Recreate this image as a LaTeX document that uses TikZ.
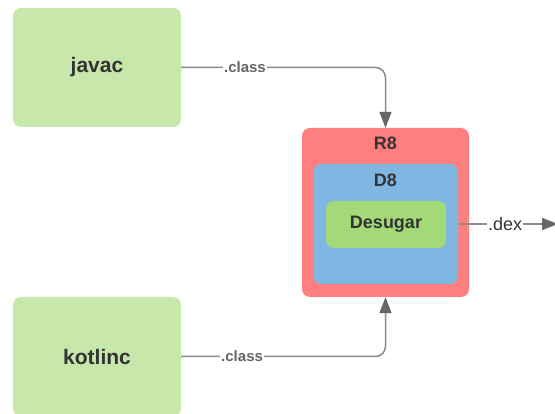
\documentclass[tikz,border=0pt]{standalone}
\usepackage{fontspec}
\setmainfont{Liberation Sans}
\usetikzlibrary{arrows.meta}
\definecolor{srcgreen}{HTML}{C7E7AB}
\definecolor{rred}{HTML}{FF7F7F}
\definecolor{dblue}{HTML}{80B7E2}
\definecolor{dgreen}{HTML}{A3D977}
\definecolor{txt}{HTML}{333333}
\definecolor{linegray}{HTML}{8C8C8C}
\definecolor{tipgray}{HTML}{666666}
\definecolor{lblgray}{HTML}{666666}
\tikzset{
  box/.style={rounded corners=8pt, draw=none, inner sep=0pt},
  srcbox/.style={box, fill=srcgreen, minimum width=168pt, minimum height=119pt,
     font=\fontsize{21}{24}\selectfont\bfseries, text=txt},
  conn/.style={draw=linegray, line width=1.5pt, rounded corners=10pt,
     -{Triangle[length=16pt,width=12pt,color=tipgray]}},
  clslabel/.style={fill=white, inner sep=1pt, font=\fontsize{15}{17}\selectfont\bfseries, text=lblgray},
  dexlabel/.style={fill=white, inner sep=1pt, font=\fontsize{18}{20}\selectfont, text=txt},
  inlabel/.style={font=\fontsize{18}{20}\selectfont\bfseries, text=txt}
}
\begin{document}
\begin{tikzpicture}[x=1pt,y=-1pt]
\useasboundingbox[fill=white] (0,0) rectangle (555,414);
\node[srcbox] (javac) at (97,67.5) {javac};
\node[srcbox] (kotlinc) at (97,356.5) {kotlinc};
\node[box, fill=rred, minimum width=167pt, minimum height=169pt] (r8) at (385.5,212.5) {};
\node[box, fill=dblue, minimum width=145pt, minimum height=120pt] (d8) at (385.5,224) {};
\node[box, fill=dgreen, minimum width=120pt, minimum height=47pt, inlabel] (desugar) at (386,224.5) {Desugar};
\node[inlabel] (r8lbl) at (385.5,143) {R8};
\node[inlabel] (d8lbl) at (385.5,180) {D8};
\coordinate (dexend) at (558,224);
\draw[conn] (javac.east) -| node[clslabel, pos=0.156] (cls1) {.class} (r8.north);
\draw[conn] (kotlinc.east) -| node[clslabel, pos=0.149] (cls2) {.class} (r8.south);
\draw[conn] (d8.east) -- node[dexlabel, pos=0.47] (dex) {.dex} (dexend);
\end{tikzpicture}
\end{document}
